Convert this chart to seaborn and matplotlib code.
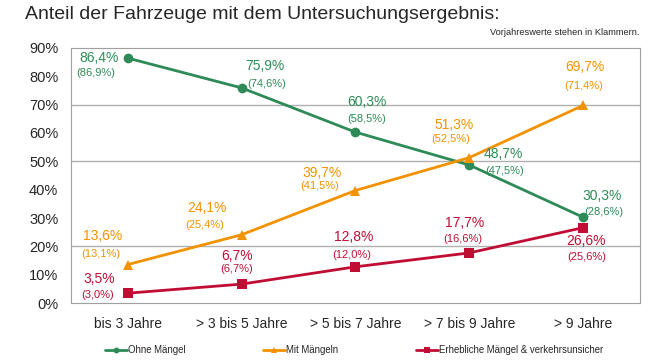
import pandas as pd
import seaborn as sns
import matplotlib.pyplot as plt

# Daten
altersklassen = ["bis 3 Jahre", "> 3 bis 5 Jahre", "> 5 bis 7 Jahre", "> 7 bis 9 Jahre", "> 9 Jahre"]
ohne_maengel = [86.4, 75.9, 60.3, 48.7, 30.3]
ohne_maengel_vj = [86.9, 74.6, 58.5, 47.5, 28.6]
mit_maengeln = [13.6, 24.1, 39.7, 51.3, 69.7]
mit_maengeln_vj = [13.1, 25.4, 41.5, 52.5, 71.4]
erheblich = [3.5, 6.7, 12.8, 17.7, 26.6]
erheblich_vj = [3.0, 6.7, 12.0, 16.6, 25.6]
serien = ["Ohne Mängel", "Mit Mängeln", "Erhebliche Mängel & verkehrsunsicher"]

sns.set_style("white")
plt.rcParams['font.family'] = ['Liberation Sans', 'DejaVu Sans']

df = pd.concat([
    pd.DataFrame({"x": range(5), "wert": w, "serie": s})
    for w, s in zip([ohne_maengel, mit_maengeln, erheblich], serien)
])

farben = {serien[0]: "#2e8b57", serien[1]: "#f39200", serien[2]: "#c00d33"}
marker = {serien[0]: "o", serien[1]: "^", serien[2]: "s"}

fig = plt.figure(figsize=(6.68, 3.6), dpi=100)
ax = fig.add_axes([0.106, 0.158, 0.852, 0.709])

sns.lineplot(data=df, x="x", y="wert", hue="serie", style="serie",
             palette=farben, markers=marker, dashes=False, markersize=7,
             markeredgewidth=0, linewidth=2, ax=ax, legend=True)

ax.set_xlim(-0.5, 4.5)
ax.set_ylim(0, 90)
ax.set_yticks(range(0, 91, 10))
ax.set_yticklabels([f"{v}%" for v in range(0, 91, 10)], fontsize=10.5)
ax.set_xticks(range(5))
ax.set_xticklabels(altersklassen, fontsize=10)
ax.tick_params(axis="x", length=0, pad=10)
ax.tick_params(axis="y", length=0, pad=9)
ax.set_xlabel("")
ax.set_ylabel("")
for y in [20, 50, 70]:
    ax.axhline(y, color="#b0b0b0", lw=1, zorder=0)
for sp in ax.spines.values():
    sp.set_color("#a0a0a0")

# Offsets der Beschriftungen in Pixeln: dx, dy Wert, dx, dy Vorjahr
offs = [
    [(-29, 0, -32, -15), (23, 22, 25, 4), (12, 30, 11, 13), (34, 11, 35, -6), (19, 21, 21, 5)],
    [(-25, 29, -27, 11), (-35, 27, -37, 10), (-33, 18, -36, 5), (-15, 33, -19, 19), (2, 38, 1, 19)],
    [(-29, 14, -30, -2), (-4, 28, -5, 15), (-2, 30, -4, 12), (-5, 30, -6, 14), (3, -13, 4, -29)],
]
k = 0.72
for i, (werte, vj) in enumerate([(ohne_maengel, ohne_maengel_vj),
                                 (mit_maengeln, mit_maengeln_vj),
                                 (erheblich, erheblich_vj)]):
    c = farben[serien[i]]
    for j in range(5):
        dx1, dy1, dx2, dy2 = offs[i][j]
        ax.annotate(f"{werte[j]:.1f}%".replace(".", ","), (j, werte[j]),
                    xytext=(dx1 * k, dy1 * k), textcoords="offset points",
                    ha="center", va="center", color=c, fontsize=10)
        ax.annotate(f"({vj[j]:.1f}%)".replace(".", ","), (j, werte[j]),
                    xytext=(dx2 * k, dy2 * k), textcoords="offset points",
                    ha="center", va="center", color=c, fontsize=8)

handles, labels = ax.get_legend_handles_labels()
ax.get_legend().remove()
fig.legend(handles, labels, loc="center left", bbox_to_anchor=(0.144, 0.028),
           ncol=3, frameon=False, fontsize=6.9, columnspacing=8.1,
           handlelength=2.3, handletextpad=0.1, markerscale=0.6)

fig.text(0.038, 0.961, "Anteil der Fahrzeuge mit dem Untersuchungsergebnis:",
         fontsize=14, va="center")
fig.text(0.958, 0.911, "Vorjahreswerte stehen in Klammern.", fontsize=6.7,
         ha="right", va="center")

fig.savefig("out.png", dpi=100)
